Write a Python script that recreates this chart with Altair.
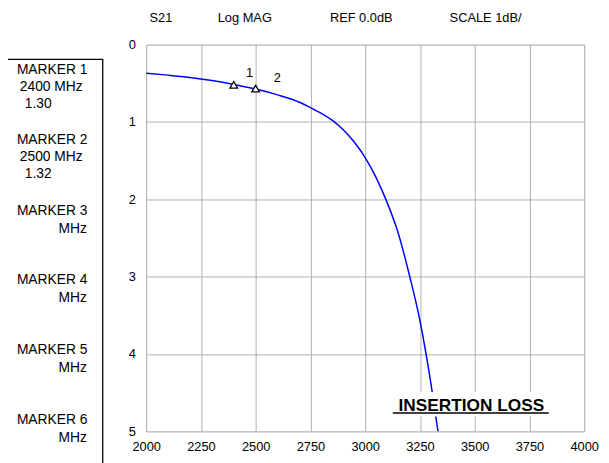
import altair as alt
import pandas as pd

# ---- data ----
freq_mhz = [2000, 2100, 2200, 2300, 2400, 2500, 2600, 2700, 2750, 2800, 2850,
            2900, 2950, 3000, 3050, 3100, 3150, 3200, 3250, 3300, 3335]
loss_db = [0.37, 0.395, 0.425, 0.465, 0.515, 0.575, 0.65, 0.745, 0.815, 0.89, 0.98,
           1.10, 1.26, 1.46, 1.72, 2.04, 2.43, 2.96, 3.57, 4.38, 5.05]

marker_freq = [2400, 2500]
marker_loss = [0.52, 0.57]
marker_ids = ["1", "2"]

x_ticks = [2000, 2250, 2500, 2750, 3000, 3250, 3500, 3750, 4000]
y_ticks = [0, 1, 2, 3, 4, 5]

header_texts = ["S21", "Log MAG", "REF 0.0dB", "SCALE 1dB/"]
panel_names = ["MARKER 1", "MARKER 2", "MARKER 3", "MARKER 4", "MARKER 5", "MARKER 6"]
panel_freqs = ["2400 MHz", "2500 MHz", "MHz", "MHz", "MHz", "MHz"]
panel_values = ["1.30", "1.32", "", "", "", ""]

note_text = "INSERTION  LOSS"
note_x, note_y = 3485, 4.735

FONT = "Liberation Sans"
W, H = 444, 392

trace = pd.DataFrame({"f": freq_mhz, "loss": loss_db})
marks = pd.DataFrame({"f": marker_freq, "loss": marker_loss, "id": marker_ids})

xs = alt.Scale(domain=[2000, 4000], nice=False, zero=False)
ys = alt.Scale(domain=[0, 5], reverse=True, nice=False, zero=False)

x_axis = alt.Axis(values=x_ticks, grid=True, gridColor="#b0b0b0", gridWidth=1,
                  tickSize=0, domain=False, labelFontSize=13, labelFont=FONT,
                  labelColor="black", labelPadding=9, labelFlush=False, title=None,
                  format="d")
y_axis = alt.Axis(values=y_ticks, grid=True, gridColor="#b0b0b0", gridWidth=1,
                  tickSize=0, domain=False, labelFontSize=13, labelFont=FONT,
                  labelColor="black", labelPadding=11, title=None, format="d")

line = alt.Chart(trace).mark_line(color="#0000ff", strokeWidth=1.5, clip=True,
                                  interpolate="monotone").encode(
    x=alt.X("f:Q", scale=xs, axis=x_axis),
    y=alt.Y("loss:Q", scale=ys, axis=y_axis),
)

tri = alt.Chart(marks).mark_point(shape="triangle-up", filled=True, fill="white",
                                  stroke="black", strokeWidth=1.3, size=60,
                                  opacity=1).encode(
    x=alt.X("f:Q", scale=xs), y=alt.Y("loss:Q", scale=ys))

lab1 = alt.Chart(marks).transform_filter(alt.datum.id == "1").mark_text(
    font=FONT, fontSize=13, dx=16, dy=-12, color="black").encode(
    x=alt.X("f:Q", scale=xs), y=alt.Y("loss:Q", scale=ys), text="id:N")
lab2 = alt.Chart(marks).transform_filter(alt.datum.id == "2").mark_text(
    font=FONT, fontSize=13, dx=22, dy=-11, color="black").encode(
    x=alt.X("f:Q", scale=xs), y=alt.Y("loss:Q", scale=ys), text="id:N")

note_df = pd.DataFrame({"f": [note_x], "loss": [note_y], "t": [note_text]})
note_bg = alt.Chart(note_df).mark_rect(fill="white").encode(
    x=alt.value(244), x2=alt.value(413), y=alt.value(352), y2=alt.value(377))
note = alt.Chart(note_df).mark_text(font=FONT, fontSize=17.5, fontWeight="bold",
                                    baseline="alphabetic", color="black").encode(
    x=alt.X("f:Q", scale=xs), y=alt.Y("loss:Q", scale=ys), text="t:N")
underline = alt.Chart(note_df).mark_rule(color="black", strokeWidth=1.5).encode(
    x=alt.value(250), x2=alt.value(408), y=alt.value(373.5))

layers = [line, note_bg, note, underline, tri, lab1, lab2]

one = pd.DataFrame({"k": [0]})

# header texts above the plot
header_x = [15, 100, 218, 344]
for t, hx in zip(header_texts, header_x):
    layers.append(alt.Chart(one).mark_text(font=FONT, fontSize=13, color="black",
                                           text=t).encode(
        x=alt.value(hx), y=alt.value(-27)))

# marker panel on the left
layers.append(alt.Chart(one).mark_rect(fill=None, stroke="black", strokeWidth=1.3).encode(
    x=alt.value(-141), x2=alt.value(-44), y=alt.value(15), y2=alt.value(460)))

block_top = [26, 97, 169, 239, 310, 381]
for name, fq, val, top in zip(panel_names, panel_freqs, panel_values, block_top):
    layers.append(alt.Chart(one).mark_text(font=FONT, fontSize=14, color="black",
                                           align="left", text=name).encode(
        x=alt.value(-131), y=alt.value(top)))
    if val:
        layers.append(alt.Chart(one).mark_text(font=FONT, fontSize=14, color="black",
                                               align="left", text=fq).encode(
            x=alt.value(-128), y=alt.value(top + 17)))
        layers.append(alt.Chart(one).mark_text(font=FONT, fontSize=14, color="black",
                                               align="left", text=val).encode(
            x=alt.value(-123), y=alt.value(top + 34)))
    else:
        layers.append(alt.Chart(one).mark_text(font=FONT, fontSize=14, color="black",
                                               align="right", text=fq).encode(
            x=alt.value(-60), y=alt.value(top + 18)))

chart = alt.layer(*layers).properties(
    width=W, height=H,
    autosize=alt.AutoSizeParams(type="none"),
    padding={"left": 140, "top": 34, "right": 17, "bottom": 29},
).configure_view(stroke="black", strokeWidth=1.5).configure(background="white")

chart.save("out.html", embed_options={"renderer": "svg", "actions": False})
